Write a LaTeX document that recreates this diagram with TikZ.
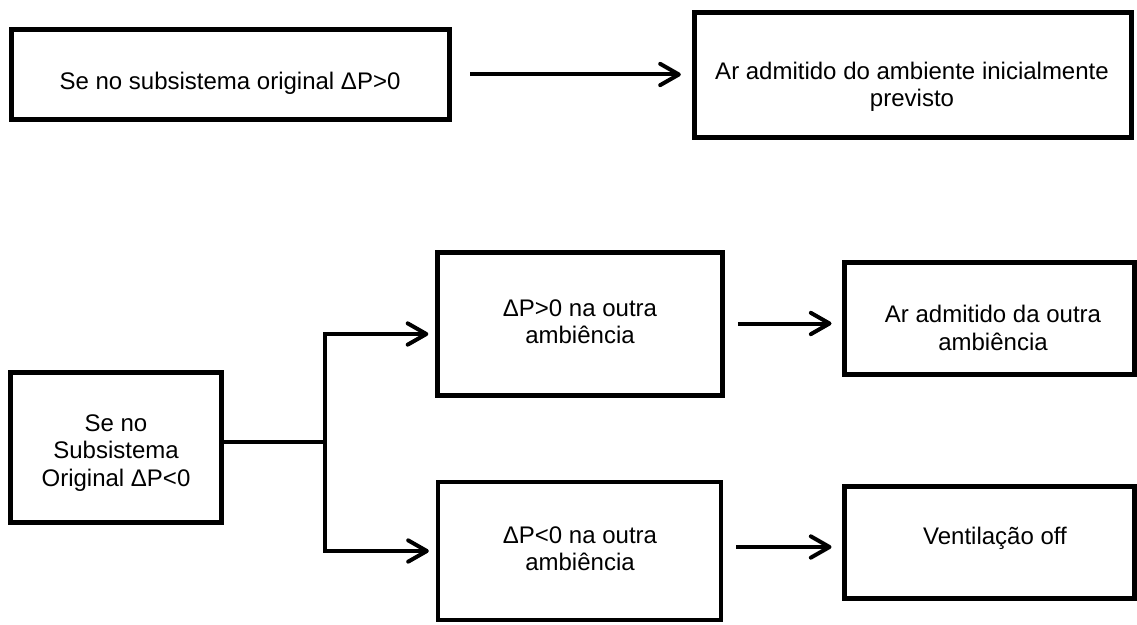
\documentclass[tikz,border=0pt]{standalone}
\usepackage{fontspec}
\setmainfont{Liberation Sans}
\usetikzlibrary{positioning,fit,arrows.meta}

\begin{document}
\begin{tikzpicture}[x=0.75pt,y=-0.75pt,
  box/.style={draw,line width=3.75pt,inner sep=0pt},
  txt/.style={align=center,inner sep=0pt,font=\fontsize{18}{20.6}\selectfont},
  link/.style={line width=3pt},
  arr/.style={link,-{Straight Barb[length=14pt,width=16pt,round]}}]
  \useasboundingbox (0,0) rectangle (1137,624);
  % top row
  \node[box,fit={(11,29.5) (449.5,119.5)}] (boxA) {};
  \node[txt] (tA) at (230,83) {Se no subsistema original ΔP>0};
  \node[box,fit={(694,13) (1131.5,137.5)}] (boxB) {};
  \node[txt] (tB) at (912,87) {Ar admitido do ambiente inicialmente\\previsto};
  \draw[arr,shorten <=13.5pt,shorten >=8pt] (boxA.east) -- (boxA.east -| boxB.west);
  % bottom part
  \node[box,fit={(10,372) (221.5,522.5)}] (boxC) {};
  \node[txt] (tC) at (116,453) {Se no\\Subsistema\\Original ΔP<0};
  \node[box,fit={(437.5,252) (722,395)}] (boxD) {};
  \node[txt] (tD) at (580,321.5) {ΔP>0 na outra\\ambiência};
  \node[box,line width=3pt,fit={(437.5,482) (721,620)}] (boxF) {};
  \node[txt] (tF) at (580,548.5) {ΔP<0 na outra\\ambiência};
  \node[box,fit={(844,262) (1134,374)}] (boxE) {};
  \node[txt] (tE) at (993,328) {Ar admitido da outra\\ambiência};
  \node[box,fit={(844,486) (1134,598)}] (boxG) {};
  \node[txt] (tG) at (995,538) {Ventilação off};
  \coordinate (split) at (325,442);
  \coordinate (upD) at (325,334);
  \coordinate (loF) at (325,551);
  \draw[link] (boxC.east |- split) -- (split);
  \draw[arr,shorten >=5pt] (split) -- (upD) -- (upD -| boxD.west);
  \draw[arr,shorten >=5pt] (split) -- (loF) -- (loF -| boxF.west);
  \draw[arr,shorten <=10pt,shorten >=7.5pt] (boxD.east) -- (boxD.east -| boxE.west);
  \draw[arr,shorten <=10pt,shorten >=7.5pt] (boxF.east |- 0,547) -- (boxE.west |- 0,547);
\end{tikzpicture}
\end{document}
